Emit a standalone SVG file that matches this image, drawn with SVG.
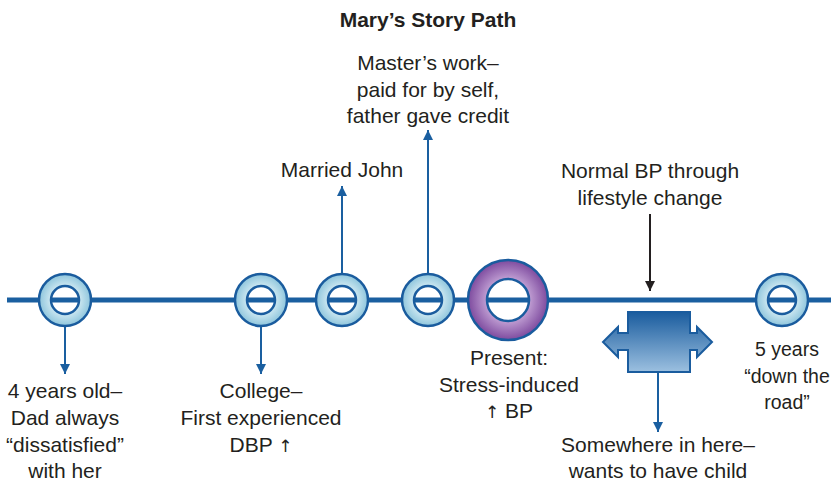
<svg xmlns="http://www.w3.org/2000/svg" width="831" height="481" viewBox="0 0 831 481">
<defs>
<radialGradient id="gBlue" cx="50%" cy="50%" r="50%">
<stop offset="0.5" stop-color="#d3ebf3"/>
<stop offset="1" stop-color="#8ec5dc"/>
</radialGradient>
<radialGradient id="gPurple" cx="50%" cy="50%" r="50%">
<stop offset="0.5" stop-color="#c4a3d6"/>
<stop offset="1" stop-color="#7d4a9e"/>
</radialGradient>
<linearGradient id="gBox" x1="0" y1="0" x2="0" y2="1">
<stop offset="0" stop-color="#1a5c9e"/>
<stop offset="1" stop-color="#9cc0e0"/>
</linearGradient>
<marker id="ab" viewBox="0 0 10 10" refX="10" refY="5" markerWidth="10" markerHeight="10" markerUnits="userSpaceOnUse" orient="auto">
<path d="M0,0 L10,5 L0,10 z" fill="#1a5fa0"/>
</marker>
<marker id="ak" viewBox="0 0 10 10" refX="10" refY="5" markerWidth="10" markerHeight="10" markerUnits="userSpaceOnUse" orient="auto">
<path d="M0,0 L10,5 L0,10 z" fill="#231f20"/>
</marker>
</defs>
<style>
text{font-family:"Liberation Sans",Arial,sans-serif;font-size:21px;fill:#231f20;text-anchor:middle}
.title{font-weight:bold}
.arr{font-family:"DejaVu Sans",sans-serif;font-size:17px;fill:#231f20}
.ring{fill:url(#gBlue);stroke:#1a5c9e;stroke-width:2.5;fill-rule:evenodd}
.pring{fill:url(#gPurple);stroke:#1a5c9e;stroke-width:2.5;fill-rule:evenodd}
.cb{stroke:#1a5fa0;stroke-width:2;fill:none;marker-end:url(#ab)}
.ck{stroke:#231f20;stroke-width:2;fill:none;marker-end:url(#ak)}
</style>
<rect width="831" height="481" fill="#ffffff"/>
<text class="title" x="428" y="27">Mary’s Story Path</text>

<g id="timeline">
<line x1="7" y1="300" x2="831" y2="300" stroke="#1a5fa0" stroke-width="5"/>
</g>

<g id="connectors">
<line class="cb" x1="65" y1="326" x2="65" y2="374"/>
<line class="cb" x1="261" y1="326" x2="261" y2="374"/>
<line class="cb" x1="342" y1="274" x2="342" y2="186"/>
<line class="cb" x1="428" y1="274" x2="428" y2="130"/>
<line class="ck" x1="650" y1="214" x2="650" y2="291"/>
<line class="cb" x1="658" y1="372" x2="658" y2="432"/>
</g>

<g id="n-4years">
<path class="ring" d="M39,300 a26,26 0 1,0 52,0 a26,26 0 1,0 -52,0 z M51,300 a14,14 0 1,0 28,0 a14,14 0 1,0 -28,0 z"/>
<text x="65" y="398">4 years old–</text>
<text x="65" y="425">Dad always</text>
<text x="65" y="452">“dissatisfied”</text>
<text x="65" y="478">with her</text>
</g>

<g id="n-college">
<path class="ring" d="M235,300 a26,26 0 1,0 52,0 a26,26 0 1,0 -52,0 z M247,300 a14,14 0 1,0 28,0 a14,14 0 1,0 -28,0 z"/>
<text x="261" y="398">College–</text>
<text x="261" y="425">First experienced</text>
<text x="261" y="452">DBP <tspan class="arr">↑</tspan></text>
</g>

<g id="n-married">
<path class="ring" d="M316,300 a26,26 0 1,0 52,0 a26,26 0 1,0 -52,0 z M328,300 a14,14 0 1,0 28,0 a14,14 0 1,0 -28,0 z"/>
<text x="342" y="177">Married John</text>
</g>

<g id="n-masters">
<path class="ring" d="M402,300 a26,26 0 1,0 52,0 a26,26 0 1,0 -52,0 z M414,300 a14,14 0 1,0 28,0 a14,14 0 1,0 -28,0 z"/>
<text x="428" y="70">Master’s work–</text>
<text x="428" y="97">paid for by self,</text>
<text x="428" y="123">father gave credit</text>
</g>

<g id="n-present">
<path class="pring" d="M468,300 a40,40 0 1,0 80,0 a40,40 0 1,0 -80,0 z M487,300 a21,21 0 1,0 42,0 a21,21 0 1,0 -42,0 z"/>
<text x="509" y="365">Present:</text>
<text x="509" y="392">Stress-induced</text>
<text x="509" y="418"><tspan class="arr">↑</tspan> BP</text>
</g>

<g id="n-normal">
<text x="650" y="178">Normal BP through</text>
<text x="650" y="205">lifestyle change</text>
</g>

<g id="n-somewhere">
<path d="M628,312 H690 V333 H697 V327 L712,342 L697,357 V350 H690 V372 H628 V350 H618 V357 L603,342 L618,327 V333 H628 Z" fill="url(#gBox)" stroke="#1a5c9e" stroke-width="2" stroke-linejoin="miter"/>
<text x="658" y="452">Somewhere in here–</text>
<text x="658" y="478">wants to have child</text>
</g>

<g id="n-5years">
<path class="ring" d="M756,300 a26,26 0 1,0 52,0 a26,26 0 1,0 -52,0 z M768,300 a14,14 0 1,0 28,0 a14,14 0 1,0 -28,0 z"/>
<text x="787" y="356" style="font-size:19.5px">5 years</text>
<text x="787" y="383" style="font-size:19.5px">“down the</text>
<text x="787" y="409" style="font-size:19.5px">road”</text>
</g>
</svg>
